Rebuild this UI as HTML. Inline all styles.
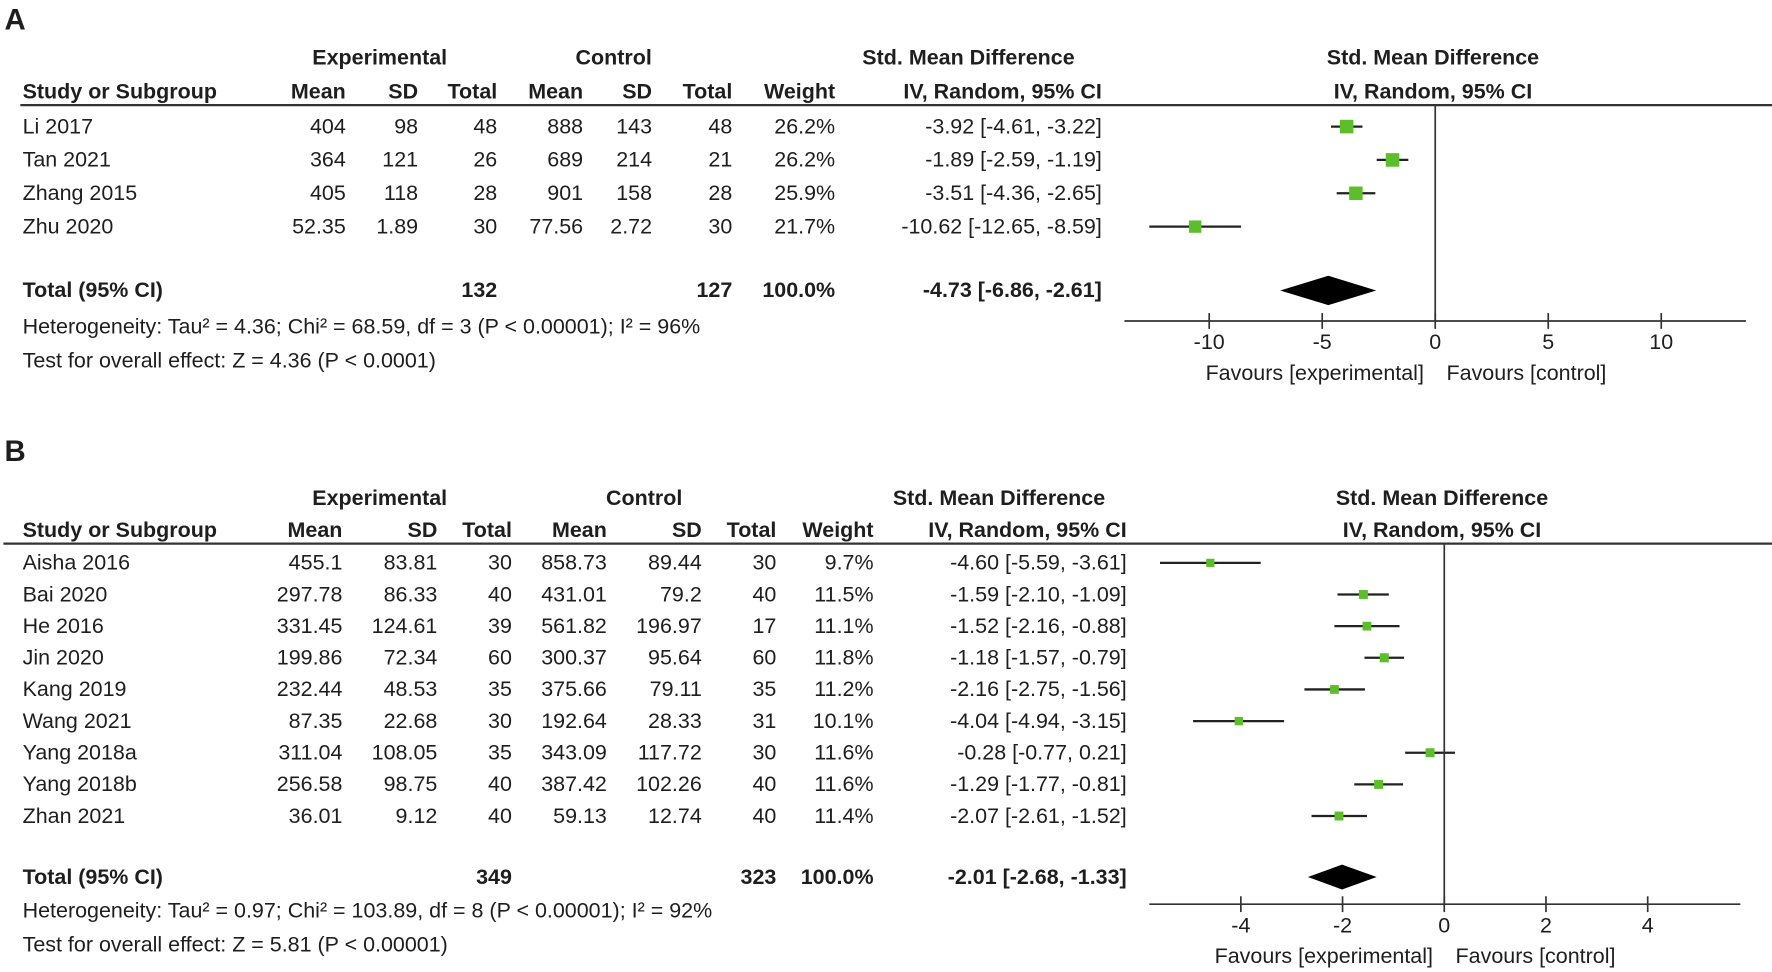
<!DOCTYPE html>
<html><head><meta charset="utf-8"><style>
html,body{margin:0;padding:0;background:#fff;}
svg{display:block;font-family:"Liberation Sans",Arial,sans-serif;}
text{fill:#1e1e1e;font-size:19px;}
.b{font-weight:bold;}
</style></head><body>
<svg id="fig" width="1772" height="972" viewBox="0 0 1568 860" preserveAspectRatio="none" xmlns="http://www.w3.org/2000/svg"></svg>
<script>
// Panel A data
const aStudies = ["Li 2017","Tan 2021","Zhang 2015","Zhu 2020"];
const aTable = [["404","98","48","888","143","48","26.2%","-3.92 [-4.61, -3.22]"],
["364","121","26","689","214","21","26.2%","-1.89 [-2.59, -1.19]"],
["405","118","28","901","158","28","25.9%","-3.51 [-4.36, -2.65]"],
["52.35","1.89","30","77.56","2.72","30","21.7%","-10.62 [-12.65, -8.59]"]];
const aEst = [-3.92,-1.89,-3.51,-10.62];
const aLo = [-4.61,-2.59,-4.36,-12.65];
const aHi = [-3.22,-1.19,-2.65,-8.59];
const aWeight = [26.2,26.2,25.9,21.7];
const aTotal = {est:-4.73, lo:-6.86, hi:-2.61};
const aTicks = [-10,-5,0,5,10];
// Panel B data
const bStudies = ["Aisha 2016","Bai 2020","He 2016","Jin 2020","Kang 2019","Wang 2021","Yang 2018a","Yang 2018b","Zhan 2021"];
const bTable = [["455.1","83.81","30","858.73","89.44","30","9.7%","-4.60 [-5.59, -3.61]"],
["297.78","86.33","40","431.01","79.2","40","11.5%","-1.59 [-2.10, -1.09]"],
["331.45","124.61","39","561.82","196.97","17","11.1%","-1.52 [-2.16, -0.88]"],
["199.86","72.34","60","300.37","95.64","60","11.8%","-1.18 [-1.57, -0.79]"],
["232.44","48.53","35","375.66","79.11","35","11.2%","-2.16 [-2.75, -1.56]"],
["87.35","22.68","30","192.64","28.33","31","10.1%","-4.04 [-4.94, -3.15]"],
["311.04","108.05","35","343.09","117.72","30","11.6%","-0.28 [-0.77, 0.21]"],
["256.58","98.75","40","387.42","102.26","40","11.6%","-1.29 [-1.77, -0.81]"],
["36.01","9.12","40","59.13","12.74","40","11.4%","-2.07 [-2.61, -1.52]"]];
const bEst = [-4.60,-1.59,-1.52,-1.18,-2.16,-4.04,-0.28,-1.29,-2.07];
const bLo = [-5.59,-2.10,-2.16,-1.57,-2.75,-4.94,-0.77,-1.77,-2.61];
const bHi = [-3.61,-1.09,-0.88,-0.79,-1.56,-3.15,0.21,-0.81,-1.52];
const bWeight = [9.7,11.5,11.1,11.8,11.2,10.1,11.6,11.6,11.4];
const bTotal = {est:-2.01, lo:-2.68, hi:-1.33};
const bTicks = [-4,-2,0,2,4];

const svg = document.getElementById('fig');
const NS = "http://www.w3.org/2000/svg";
function el(tag, attrs, txt){const e=document.createElementNS(NS,tag);for(const k in attrs)e.setAttribute(k,attrs[k]);if(txt!==undefined)e.textContent=txt;svg.appendChild(e);return e;}
function T(x,y,s,anchor,bold,name){const e=el('text',{x:x,y:y,'text-anchor':anchor||'start'},s);if(bold)e.setAttribute('class','b');

return e;}
function L(x1,y1,x2,y2,w,name,c){const e=el('line',{x1:x1,y1:y1,x2:x2,y2:y2,stroke:c||'#222','stroke-width':w||1.5});

return e;}

function panel(cfg){
  const P=cfg;
  T(4,P.letterY,P.letter,'start',true,'panel-letter').setAttribute('style','font-size:26px');
  T(P.expC,P.h1,'Experimental','middle',true,'experimental-header');
  T(P.ctlC,P.h1,'Control','middle',true,'control-header');
  T(P.ciC,P.h1,'Std. Mean Difference','middle',true,'smd-header');
  T(P.plotC,P.h1,'Std. Mean Difference','middle',true,'plot-header');
  T(20,P.h2,'Study or Subgroup','start',true,'study-header');
  const hdr=['Mean','SD','Total','Mean','SD','Total','Weight'];
  hdr.forEach((h,i)=>T(P.cols[i],P.h2,h,'end',true,'column-header'));
  T(P.ciR,P.h2,'IV, Random, 95% CI','end',true,'ci-header');
  T(P.plotC,P.h2,'IV, Random, 95% CI','middle',true,'plot-subheader');
  L(P.lineX,P.lineY,1568,P.lineY,2,'header-rule','#333');
  const sx=v=>P.zeroX+v*P.ppu;
  P.studies.forEach((s,i)=>{
    const y=P.row0+i*P.rowH;
    T(20,y,s,'start',false,'study-name');
    P.table[i].forEach((v,j)=>T(j<7?P.cols[j]:P.ciR,y,v,'end',false,'cell'));
    const cy=y-6;
    L(sx(P.lo[i]),cy,sx(P.hi[i]),cy,2,'ci-line','#222');
    const sz=P.sqBase*Math.sqrt(P.w[i]/P.wRef);
    const r=el('rect',{x:sx(P.est[i])-sz/2,y:cy-sz/2,width:sz,height:sz,fill:'#5cbf2a'});
    
    
  });
  T(20,P.totY,'Total (95% CI)','start',true,'total-label');
  T(P.cols[2],P.totY,P.n1,'end',true,'total-exp');
  T(P.cols[5],P.totY,P.n2,'end',true,'total-ctl');
  T(P.cols[6],P.totY,'100.0%','end',true,'total-weight');
  T(P.ciR,P.totY,P.totTxt,'end',true,'total-ci');
  const dy=P.totY-6;
  const d=el('polygon',{points:`${sx(P.tot.lo)},${dy} ${sx(P.tot.est)},${dy-P.dh} ${sx(P.tot.hi)},${dy} ${sx(P.tot.est)},${dy+P.dh}`,fill:'#000'});
  
  
  T(20,P.hetY,P.het,'start',false,'heterogeneity');
  T(20,P.hetY+30,P.test,'start',false,'overall-effect');
  L(P.zeroX,P.lineY,P.zeroX,P.axisY,1.5,'zero-line','#333');
  L(P.axL,P.axisY,P.axR,P.axisY,1.5,'x-axis','#333');
  P.ticks.forEach(t=>{L(sx(t),P.axisY-7,sx(t),P.axisY+7,1.5,'x-tick','#333');T(sx(t),P.axisY+25,String(t),'middle',false,'x-tick-label');});
  T(P.zeroX-10,P.axisY+52,'Favours [experimental]','end',false,'favours-experimental');
  T(P.zeroX+10,P.axisY+52,'Favours [control]','start',false,'favours-control');
}
panel({letter:'A',letterY:26,h1:57,h2:87,expC:336,ctlC:543,ciC:857,plotC:1268,
 cols:[306,370,440,516,577,648,739],ciR:975,lineX:18,lineY:93,
 studies:aStudies,table:aTable,est:aEst,lo:aLo,hi:aHi,w:aWeight,wRef:26.2,sqBase:12,
 row0:118,rowH:29.5,zeroX:1270,ppu:20,axisY:284,axL:995,axR:1545,ticks:aTicks,
 totY:263,n1:'132',n2:'127',totTxt:'-4.73 [-6.86, -2.61]',tot:aTotal,dh:13,
 hetY:295,het:'Heterogeneity: Tau² = 4.36; Chi² = 68.59, df = 3 (P < 0.00001); I² = 96%',
 test:'Test for overall effect: Z = 4.36 (P < 0.0001)'});
panel({letter:'B',letterY:408,h1:447,h2:475,expC:336,ctlC:570,ciC:884,plotC:1276,
 cols:[303,387,453,537,621,687,773],ciR:997,lineX:3,lineY:481,
 studies:bStudies,table:bTable,est:bEst,lo:bLo,hi:bHi,w:bWeight,wRef:11.8,sqBase:8,
 row0:504,rowH:28,zeroX:1278,ppu:45,axisY:800,axL:1017,axR:1540,ticks:bTicks,
 totY:782,n1:'349',n2:'323',totTxt:'-2.01 [-2.68, -1.33]',tot:bTotal,dh:11,
 hetY:812,het:'Heterogeneity: Tau² = 0.97; Chi² = 103.89, df = 8 (P < 0.00001); I² = 92%',
 test:'Test for overall effect: Z = 5.81 (P < 0.00001)'});
</script>
</body></html>
